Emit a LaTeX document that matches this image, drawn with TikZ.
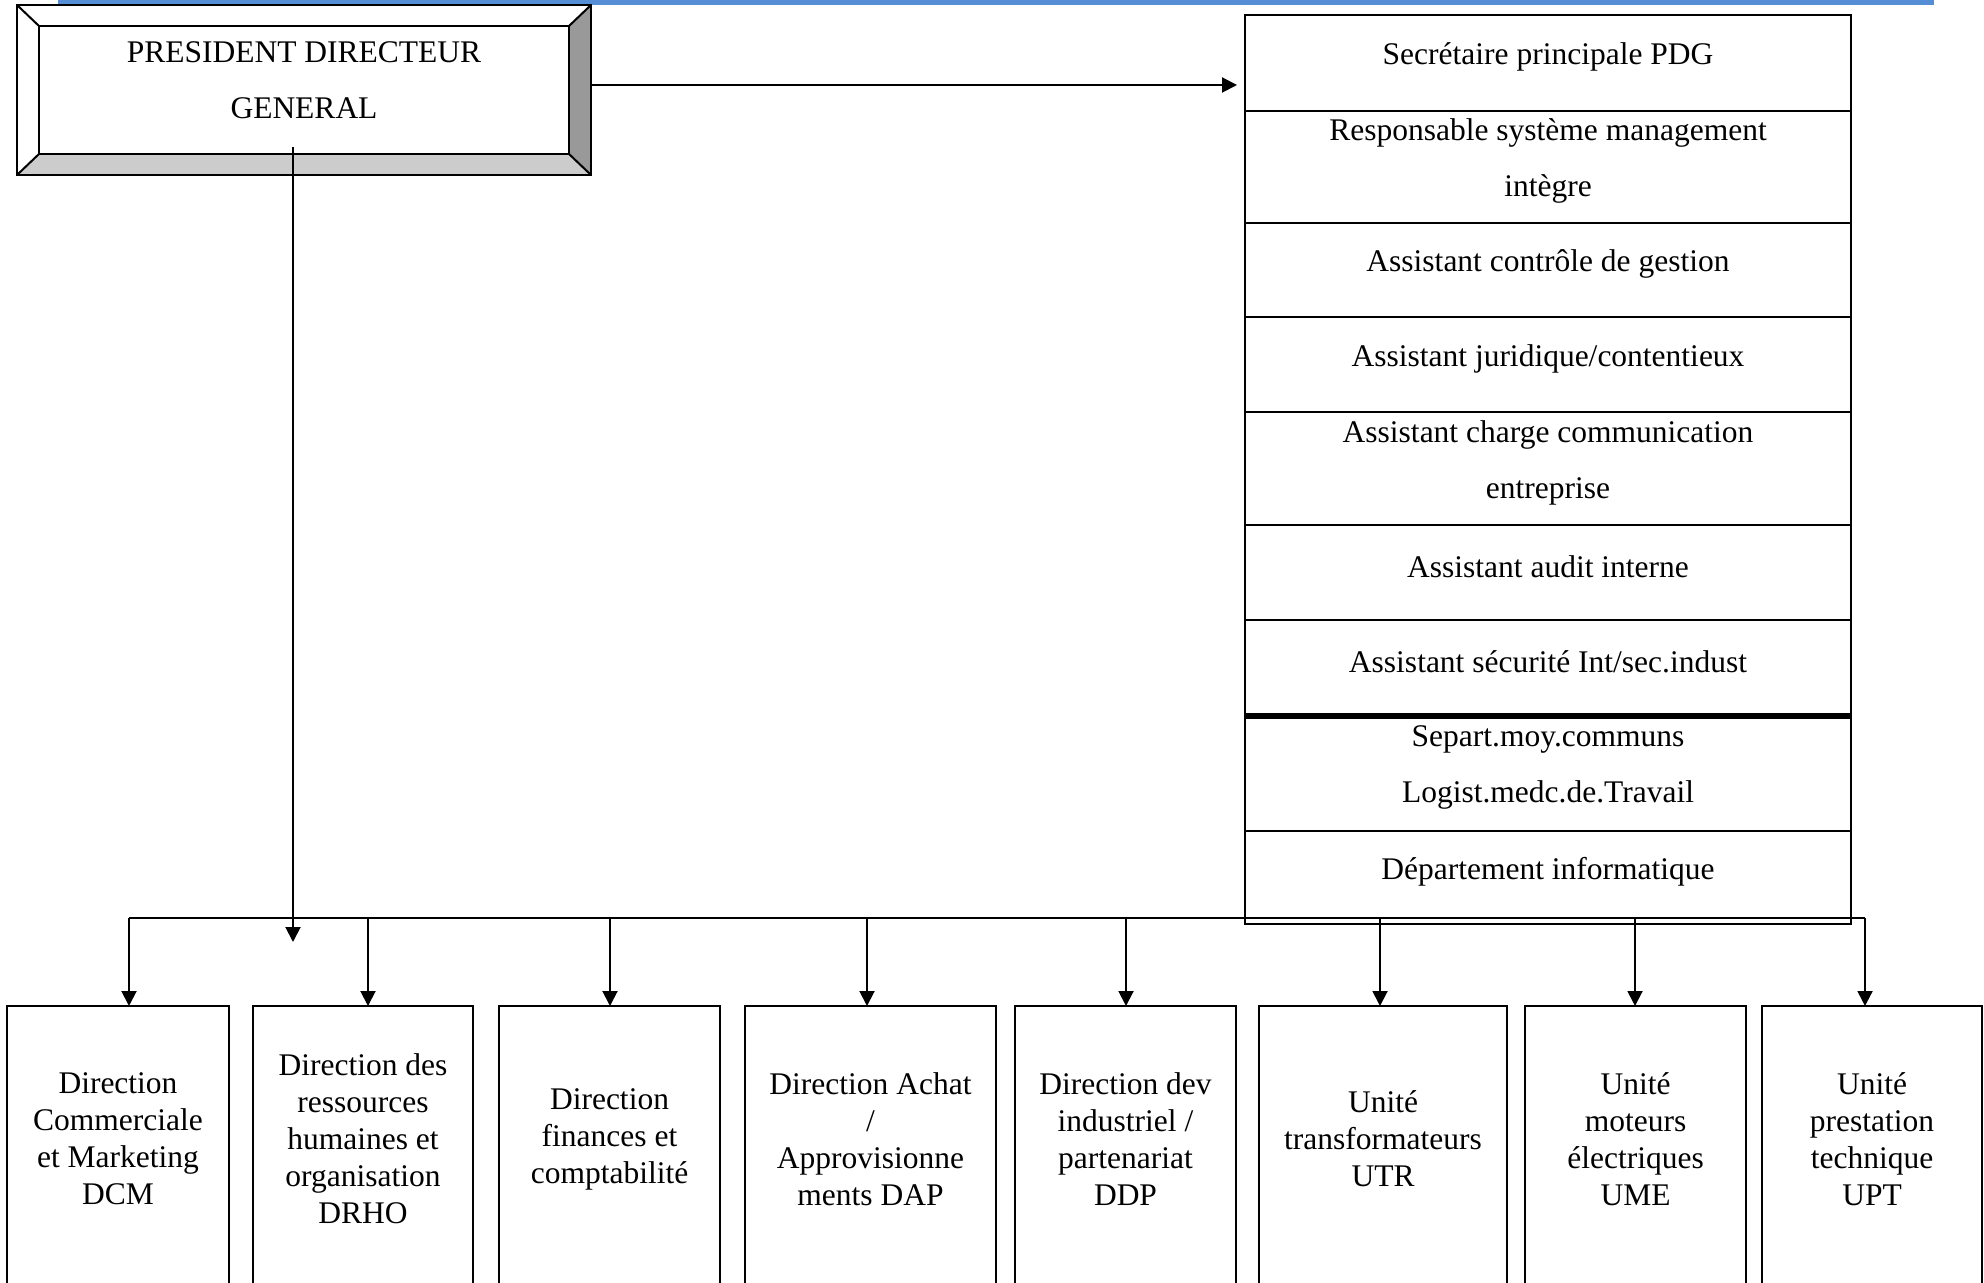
\documentclass[tikz,border=0pt]{standalone}
\usepackage{fontspec}
\setmainfont{Liberation Serif}
\usetikzlibrary{positioning,arrows.meta}
\definecolor{headblue}{HTML}{558ED5}
\definecolor{bevelside}{HTML}{999999}
\definecolor{bevelbase}{HTML}{CCCCCC}
\newcommand{\pxu}{0.4pt}
\newcommand{\stackfont}{\fontsize{12.6pt}{22.4pt}\selectfont}
\newcommand{\unitfont}{\fontsize{12.6pt}{14.8pt}\selectfont}
\tikzset{
    every node/.style={inner sep=0pt,outer sep=0pt},
    bevel/.style={line width=0.8pt},
    pdgbox/.style={rectangle,minimum width=530*\pxu,minimum height=128*\pxu},
    rowbox/.style={rectangle,draw,line width=0.8pt,minimum width=606*\pxu,anchor=north},
    stacktext/.style={align=center,font=\stackfont},
    unitbox/.style={rectangle,draw,line width=0.8pt,minimum height=320*\pxu,anchor=north},
    unittext/.style={align=center,font=\unitfont},
    link/.style={line width=0.8pt},
    arr/.style={line width=0.8pt,-{Triangle[width=6pt,length=6pt]}}
}

\begin{document}
\begin{tikzpicture}[x=\pxu,y=-\pxu]
\useasboundingbox (0,0) rectangle (1984,1283);
\clip (0,0) rectangle (1984,1283);
\fill[headblue] (58,0) rectangle (1934,5);
% PDG with bevelled frame
\node[pdgbox] (pdg) at (304,90) {};
\coordinate (pdgnw) at ([shift={(-22,-21)}]pdg.north west);
\coordinate (pdgne) at ([shift={(22,-21)}]pdg.north east);
\coordinate (pdgse) at ([shift={(22,21)}]pdg.south east);
\coordinate (pdgsw) at ([shift={(-22,21)}]pdg.south west);
\fill[bevelside] (pdg.north east) -- (pdgne) -- (pdgse) -- (pdg.south east) -- cycle;
\fill[bevelbase] (pdg.south west) -- (pdg.south east) -- (pdgse) -- (pdgsw) -- cycle;
\draw[bevel] (pdgnw) rectangle (pdgse);
\draw[bevel] (pdg.north west) rectangle (pdg.south east);
\draw[bevel] (pdgnw) -- (pdg.north west) (pdgne) -- (pdg.north east)
             (pdgse) -- (pdg.south east) (pdgsw) -- (pdg.south west);
\node[stacktext] (pdgt) at ([yshift=3.8pt]pdg.center) {PRESIDENT DIRECTEUR\\GENERAL};
% staff stack
\node[rowbox,minimum height=96*\pxu] (r1) at (1548,15) {};
\node[rowbox,minimum height=112*\pxu,below=0pt of r1] (r2) {};
\node[rowbox,minimum height=94*\pxu,below=0pt of r2] (r3) {};
\node[rowbox,minimum height=95*\pxu,below=0pt of r3] (r4) {};
\node[rowbox,minimum height=113*\pxu,below=0pt of r4] (r5) {};
\node[rowbox,minimum height=95*\pxu,below=0pt of r5] (r6) {};
\node[rowbox,minimum height=96*\pxu,below=0pt of r6] (r7) {};
\node[rowbox,minimum height=115*\pxu,below=0pt of r7] (r8) {};
\node[rowbox,minimum height=93*\pxu,below=0pt of r8] (r9) {};
\draw[line width=2.4pt] (r8.north west) -- (r8.north east);
\node[stacktext] (t1) at ([yshift=2.4pt]r1.center) {Secrétaire principale PDG};
\node[stacktext] (t2) at ([yshift=2.4pt]r2.center) {Responsable système management\\intègre};
\node[stacktext] (t3) at ([yshift=2.4pt]r3.center) {Assistant contrôle de gestion};
\node[stacktext] (t4) at ([yshift=2.4pt]r4.center) {Assistant juridique/contentieux};
\node[stacktext] (t5) at ([yshift=2.4pt]r5.center) {Assistant charge communication\\entreprise};
\node[stacktext] (t6) at ([yshift=2.4pt]r6.center) {Assistant audit interne};
\node[stacktext] (t7) at ([yshift=2.4pt]r7.center) {Assistant sécurité Int/sec.indust};
\node[stacktext] (t8) at ([yshift=2.4pt]r8.center) {Separt.moy.communs\\Logist.medc.de.Travail};
\node[stacktext] (t9) at ([yshift=2.4pt]r9.center) {Département informatique};
\coordinate (pdgout) at ([yshift=2pt]pdgne |- pdg.east);
\draw[arr,shorten >=3.2pt] (pdgout) -- (pdgout -| r1.west);
% directions and units
\node[unitbox,minimum width=222*\pxu] (dcm) at (118,1006) {};
\node[unitbox,minimum width=220*\pxu] (drho) at (363,1006) {};
\node[unitbox,minimum width=221*\pxu] (dfc) at (609.5,1006) {};
\node[unitbox,minimum width=251*\pxu] (dap) at (870.5,1006) {};
\node[unitbox,minimum width=221*\pxu] (ddp) at (1125.5,1006) {};
\node[unitbox,minimum width=248*\pxu] (utr) at (1383,1006) {};
\node[unitbox,minimum width=221*\pxu] (ume) at (1635.5,1006) {};
\node[unitbox,minimum width=220*\pxu] (upt) at (1872,1006) {};
\node[unittext] (dcmt) at ([yshift=-53.2pt]dcm.north) {Direction\\Commerciale\\et Marketing\\DCM};
\node[unittext] (drhot) at ([yshift=-53.2pt]drho.north) {Direction des\\ressources\\humaines et\\organisation\\DRHO};
\node[unittext] (dfct) at ([yshift=-53.2pt]dfc.north) {Direction\\finances et\\comptabilité};
\node[unittext] (dapt) at ([yshift=-53.2pt]dap.north) {Direction Achat\\/\\Approvisionne\\ments DAP};
\node[unittext] (ddpt) at ([yshift=-53.2pt]ddp.north) {Direction dev\\industriel /\\partenariat\\DDP};
\node[unittext] (utrt) at ([yshift=-53.2pt]utr.north) {Unité\\transformateurs\\UTR};
\node[unittext] (umet) at ([yshift=-53.2pt]ume.north) {Unité\\moteurs\\électriques\\UME};
\node[unittext] (uptt) at ([yshift=-53.2pt]upt.north) {Unité\\prestation\\technique\\UPT};
% connectors
\coordinate (pdgdown) at ([shift={(-11,-7)}]pdg.south);
\coordinate (pdgend) at (293,942);
\draw[arr] (pdgdown) -- (pdgend);
\coordinate (busw) at (129,918);
\coordinate (buse) at (1865,918);
\draw[link] (busw) -- (buse);
\coordinate (b2) at (368,918);
\coordinate (b3) at (610,918);
\coordinate (b4) at (867,918);
\coordinate (b5) at (1126,918);
\coordinate (b6) at (1380,918);
\coordinate (b7) at (1635,918);
\draw[arr] (busw) -- (busw |- dcm.north);
\draw[arr] (b2) -- (b2 |- drho.north);
\draw[arr] (b3) -- (b3 |- dfc.north);
\draw[arr] (b4) -- (b4 |- dap.north);
\draw[arr] (b5) -- (b5 |- ddp.north);
\draw[arr] (b6) -- (b6 |- utr.north);
\draw[arr] (b7) -- (b7 |- ume.north);
\draw[arr] (buse) -- (buse |- upt.north);
\end{tikzpicture}
\end{document}
